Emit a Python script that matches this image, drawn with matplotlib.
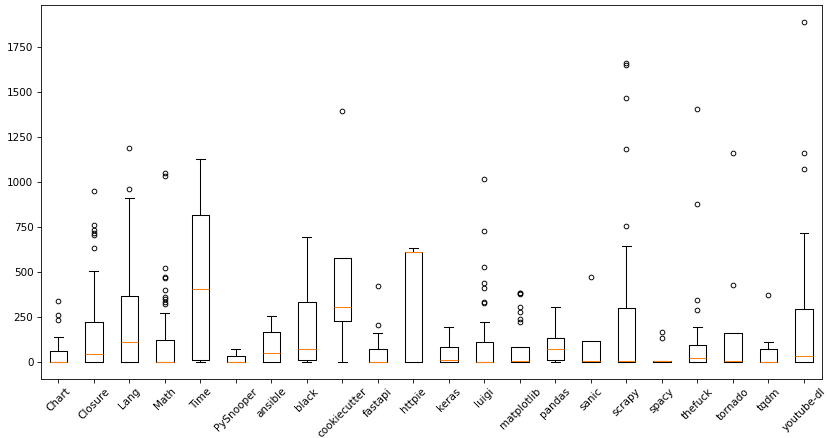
import matplotlib
matplotlib.use("Agg")
import matplotlib.pyplot as plt

projects = ["Chart", "Closure", "Lang", "Math", "Time", "PySnooper", "ansible", "black",
            "cookiecutter", "fastapi", "httpie", "keras", "luigi", "matplotlib", "pandas",
            "sanic", "scrapy", "spacy", "thefuck", "tornado", "tqdm", "youtube-dl"]

q1 = [0, 0, 0, 0, 9, 0, 0, 9, 228, 0, 0, 0, 0, 0, 13, 0, 0, 0, 0, 0, 0, 0]
med = [0, 46, 108, 0, 403, 0, 48, 71, 305, 0, 609, 9, 0, 4, 71, 7, 7, 3, 19, 7, 0, 30]
q3 = [61, 219, 366, 119, 817, 35, 167, 331, 576, 69, 609, 80, 110, 82, 134, 115, 297, 7, 91, 160, 74, 294]
whislo = [0, 0, 0, 0, 0, 0, 0, 0, 0, 0, 0, 0, 0, 0, 0, 0, 0, 0, 0, 0, 0, 0]
whishi = [139, 505, 910, 271, 1128, 69, 256, 691, 576, 163, 630, 195, 223, 82, 307, 115, 645, 7, 191, 163, 108, 715]
fliers = [
    [338, 260, 232],
    [947, 762, 734, 715, 706, 635],
    [960, 1189],
    [1050, 1031, 520, 470, 466, 399, 362, 347, 334, 321],
    [],
    [],
    [],
    [],
    [1391],
    [204, 424],
    [],
    [],
    [1016, 728, 526, 440, 409, 334, 325],
    [385, 380, 377, 307, 275, 240, 223],
    [],
    [474],
    [752, 1185, 1466, 1650, 1663],
    [165, 132],
    [290, 342, 879, 1403],
    [425, 1163],
    [372],
    [1072, 1161, 1889],
]

stats = []
for i in range(len(projects)):
    stats.append({"label": projects[i], "q1": q1[i], "med": med[i], "q3": q3[i],
                  "whislo": whislo[i], "whishi": whishi[i], "fliers": fliers[i]})

dpi = 75
fig = plt.figure(figsize=(830 / dpi, 438 / dpi), dpi=dpi)
ax = fig.add_axes([0.049, 0.135, 0.941, 0.854])
lw = 1.0
ax.bxp(stats, showfliers=True,
       boxprops=dict(linewidth=lw), whiskerprops=dict(linewidth=lw),
       capprops=dict(linewidth=lw), medianprops=dict(linewidth=lw, color="#ff7f0e"),
       flierprops=dict(markersize=4.5, markeredgewidth=0.9))
ax.set_xticklabels(projects, rotation=45)
fig.savefig("out.png", dpi=dpi)
